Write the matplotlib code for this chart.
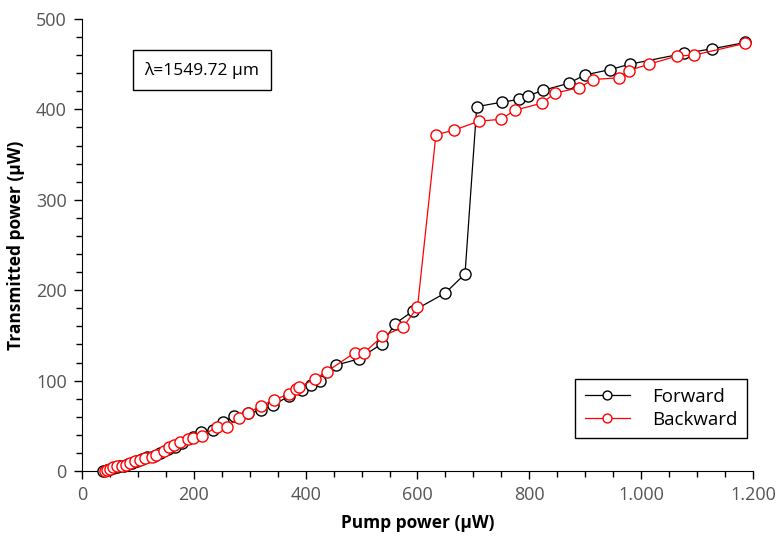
import matplotlib
matplotlib.use("Agg")
import matplotlib.pyplot as plt
from matplotlib.ticker import MultipleLocator, FuncFormatter

plt.rcParams["font.family"] = ["Open Sans", "DejaVu Sans"]

# Forward sweep
fwd_x = [38, 44, 50, 56, 62, 68, 75, 82, 90, 98, 107, 117, 128, 140, 153, 166,
         179, 198, 213, 234, 252, 272, 297, 320, 342, 371, 393, 409, 425, 454,
         495, 537, 560, 592, 650, 685, 706, 751, 781, 798, 824, 871, 899, 944,
         980, 1077, 1127, 1186]
fwd_y = [0, 1, 2, 3, 4, 5, 6, 8, 9, 11, 13, 15, 17, 20, 24, 27,
         31, 38, 43, 45, 54, 61, 64, 67, 73, 83, 90, 95, 100, 117,
         124, 141, 163, 177, 197, 218, 403, 408, 411, 415, 421, 429, 438, 444,
         450, 462, 467, 474]

# Backward sweep
bwd_x = [41, 45, 50, 55, 63, 71, 79, 86, 95, 104, 113, 125, 132, 147, 156, 165,
         176, 189, 198, 215, 242, 259, 281, 297, 320, 344, 370, 383, 389, 417,
         438, 488, 505, 537, 574, 600, 633, 665, 710, 749, 774, 823, 846, 889,
         914, 960, 978, 1014, 1064, 1094, 1186]
bwd_y = [0, 1, 2, 4, 5, 6, 7, 9, 11, 12, 14, 16, 18, 22, 27, 29,
         32, 35, 37, 39, 49, 49, 59, 64, 72, 79, 85, 91, 93, 102,
         110, 131, 131, 149, 159, 181, 372, 377, 387, 389, 399, 407, 418, 424,
         433, 435, 443, 450, 459, 460, 473]

fig = plt.figure(figsize=(7.77, 5.41), dpi=100)
ax = fig.add_axes([0.1055, 0.1294, 0.8636, 0.8355])

ax.plot(fwd_x, fwd_y, "-o", color="black", lw=0.9, ms=8, mfc="white",
        mec="black", mew=1.0, clip_on=False, label="Forward", zorder=3)
ax.plot(bwd_x, bwd_y, "-o", color="red", lw=0.9, ms=8, mfc="white",
        mec="red", mew=1.0, clip_on=False, label="Backward", zorder=4)

ax.set_xlim(0, 1200)
ax.set_ylim(0, 500)
ax.spines["top"].set_visible(False)
ax.spines["right"].set_visible(False)

ax.xaxis.set_major_locator(MultipleLocator(200))
ax.xaxis.set_minor_locator(MultipleLocator(50))
ax.yaxis.set_major_locator(MultipleLocator(100))
ax.yaxis.set_minor_locator(MultipleLocator(20))
ax.xaxis.set_major_formatter(FuncFormatter(lambda v, p: f"{int(v):,}".replace(",", ".")))

ax.tick_params(which="major", direction="out", length=6, width=1, labelsize=13,
               labelcolor="#555555", pad=5)
ax.tick_params(which="minor", direction="out", length=4, width=1)

ax.set_xlabel("Pump power (µW)", fontsize=12.5, fontweight="bold", labelpad=7)
ax.set_ylabel("Transmitted power (µW)", fontsize=12.5, fontweight="bold", labelpad=8)

ax.text(0.179, 0.887, "λ=1549.72 µm", transform=ax.transAxes, fontsize=12.5,
        ha="center", va="center",
        bbox=dict(boxstyle="square,pad=0.65", fc="white", ec="black", lw=1))

leg = ax.legend(loc="lower right", bbox_to_anchor=(0.991, 0.073), fontsize=13.5,
                frameon=True, fancybox=False, edgecolor="black", framealpha=1,
                handlelength=2.4, handletextpad=1.2, markerscale=0.8,
                borderpad=0.5, labelspacing=0.25, borderaxespad=0)
leg.get_frame().set_linewidth(1)

fig.savefig("out.png", dpi=100)
